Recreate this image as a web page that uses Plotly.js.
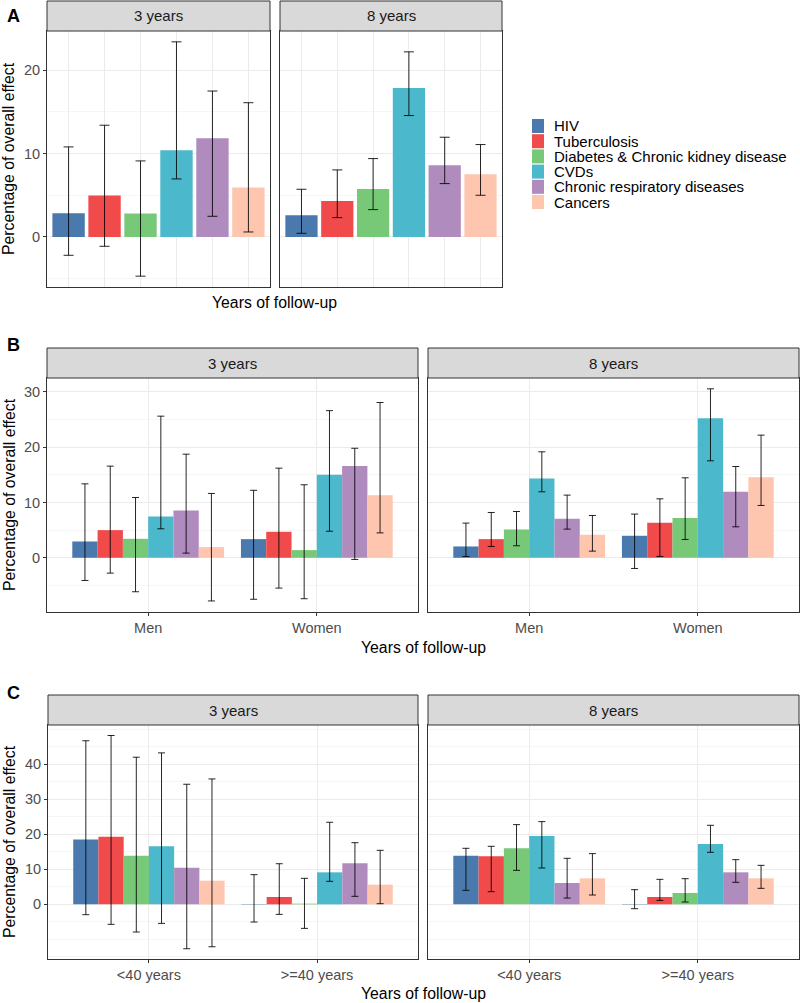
<!DOCTYPE html>
<html>
<head>
<meta charset="utf-8">
<script src="https://cdn.plot.ly/plotly-3.0.1.min.js"></script>
<style>html,body{margin:0;padding:0;background:#fff;}#chart{width:800px;height:1003px;}</style>
</head>
<body>
<div id="chart"></div>
<script>
// ---------------- DATA ----------------
const diseases = ["HIV", "Tuberculosis", "Diabetes & Chronic kidney disease", "CVDs", "Chronic respiratory diseases", "Cancers"];
const diseaseColors = ["#4A79AD", "#F04A4B", "#78C977", "#4BB8CB", "#B08BBD", "#FEC5AF"];
const facets = ["3 years", "8 years"];
const sexGroups = ["Men", "Women"];
const ageGroups = ["<40 years", ">=40 years"];

// Panel A: overall, one value per disease
const A3_value = [2.84, 4.96, 2.80, 10.40, 11.85, 5.92];
const A3_low   = [-2.20, -1.12, -4.70, 6.96, 2.48, 0.60];
const A3_high  = [10.80, 13.40, 9.12, 23.40, 17.50, 16.10];
const A8_value = [2.60, 4.32, 5.76, 17.85, 8.60, 7.52];
const A8_low   = [0.44, 2.32, 3.28, 14.56, 6.40, 5.00];
const A8_high  = [5.72, 8.04, 9.40, 22.20, 11.96, 11.08];

// Panel B: by sex, rows = diseases, columns = [Men, Women]
const B3_value = [[2.95, 3.37], [5.00, 4.70], [3.43, 1.39], [7.47, 15.00], [8.55, 16.57], [1.93, 11.30]];
const B3_low   = [[-4.10, -7.50], [-2.77, -5.48], [-6.14, -7.40], [5.24, 4.80], [0.84, -0.30], [-7.80, 4.50]];
const B3_high  = [[13.37, 12.20], [16.57, 16.20], [10.90, 13.20], [25.60, 26.60], [18.73, 19.80], [11.63, 28.07]];
const B8_value = [[2.05, 3.98], [3.37, 6.33], [5.12, 7.17], [14.34, 25.24], [7.05, 11.93], [4.16, 14.58]];
const B8_low   = [[0.24, -1.93], [2.05, 0.24], [2.17, 3.31], [11.93, 17.53], [5.18, 5.60], [1.20, 9.46]];
const B8_high  = [[6.27, 7.90], [8.19, 10.66], [8.37, 14.46], [19.16, 30.54], [11.33, 16.50], [7.65, 22.17]];

// Panel C: by age, rows = diseases, columns = [<40, >=40]
const C3_value = [[18.48, -0.10], [19.33, 2.10], [13.90, 0.20], [16.57, 9.14], [10.48, 11.70], [6.76, 5.62]];
const C3_low   = [[-2.95, -5.05], [-5.70, -2.86], [-7.90, -6.86], [-5.43, 6.57], [-12.67, 2.29], [-12.10, 0.19]];
const C3_high  = [[46.70, 8.48], [48.20, 11.60], [42.00, 7.43], [43.24, 23.43], [34.29, 17.60], [35.80, 15.43]];
const C8_value = [[13.90, -0.10], [13.70, 2.10], [16.00, 3.24], [19.52, 17.24], [6.10, 9.14], [7.43, 7.43]];
const C8_low   = [[4.00, -1.24], [3.62, 1.14], [9.71, 0.67], [10.38, 14.86], [1.80, 6.29], [2.67, 4.57]];
const C8_high  = [[16.00, 4.19], [16.57, 7.14], [22.76, 7.33], [23.62, 22.57], [13.14, 12.76], [14.48, 11.14]];

// ---------------- HELPERS ----------------
const W = 800, H = 1003;
const px = v => v / W;
const py = v => 1 - v / H;
const sub = (a, b) => a.map((v, i) => v - b[i]);

const ERR_COLOR = "rgba(0,0,0,0.85)";
const traces = [];

function errObj(val, low, high, w) {
  return {type: "data", symmetric: false, array: sub(high, val), arrayminus: sub(val, low),
          color: ERR_COLOR, thickness: 1, width: w};
}

// Panel A traces (one trace per facet, each disease its own x category)
[[A3_value, A3_low, A3_high, "x", "y"], [A8_value, A8_low, A8_high, "x2", "y2"]].forEach(([v, lo, hi, xa, ya]) => {
  traces.push({
    type: "bar", x: diseases, y: v, xaxis: xa, yaxis: ya,
    marker: {color: diseaseColors, line: {width: 0}},
    error_y: errObj(v, lo, hi, 5),
    showlegend: false, hoverinfo: "skip"
  });
});

// Panels B and C
function groupedPanel(groups, vals, lows, highs, xa, ya) {
  diseases.forEach((d, i) => {
    traces.push({
      type: "bar", name: d, legendgroup: d, showlegend: false,
      x: groups, y: vals[i], xaxis: xa, yaxis: ya,
      marker: {color: diseaseColors[i], line: {width: 0}},
      error_y: errObj(vals[i], lows[i], highs[i], 3.5),
      hoverinfo: "skip"
    });
  });
}
groupedPanel(sexGroups, B3_value, B3_low, B3_high, "x3", "y3");
groupedPanel(sexGroups, B8_value, B8_low, B8_high, "x4", "y4");
groupedPanel(ageGroups, C3_value, C3_low, C3_high, "x5", "y5");
groupedPanel(ageGroups, C8_value, C8_low, C8_high, "x6", "y6");

// ---------------- LAYOUT ----------------
const FRAME = "#333333";
const FONT = "Liberation Sans, Arial, sans-serif";
const TICKFONT = {family: FONT, size: 14.5, color: "#4D4D4D"};

function xAxis(x0, x1, anchor, range, labels) {
  return {
    domain: [px(x0), px(x1)], anchor: anchor, type: "category", range: range,
    showgrid: true, gridcolor: "#EBEBEB", gridwidth: 1,
    showline: true, mirror: true, linecolor: FRAME, linewidth: 1,
    ticks: labels ? "outside" : "", ticklen: 3, tickcolor: FRAME,
    showticklabels: labels, tickfont: TICKFONT, zeroline: false, fixedrange: true
  };
}
function yAxis(top, bottom, anchor, range, tickvals, labels) {
  return {
    domain: [py(bottom), py(top)], anchor: anchor, range: range,
    tickmode: "array", tickvals: tickvals, ticktext: tickvals.map(String),
    showgrid: true, gridcolor: "#EBEBEB", gridwidth: 1,
    minor: {dtick: 5, tick0: 0, showgrid: true, gridcolor: "#F2F2F2", gridwidth: 0.7, ticks: ""},
    showline: true, mirror: true, linecolor: FRAME, linewidth: 1,
    ticks: labels ? "outside" : "", ticklen: 3, tickcolor: FRAME,
    showticklabels: labels, tickfont: TICKFONT, zeroline: false, fixedrange: true
  };
}

// facet geometry (pixels)
const A = {top: 31, bottom: 287, strip: 1, L: [47, 270], R: [280, 502], yr: [-6, 24.7], ticks: [0, 10, 20]};
const B = {top: 378, bottom: 612, strip: 348, L: [47, 418], R: [428, 799], yr: [-9.8, 32.5], ticks: [0, 10, 20, 30]};
const C = {top: 725, bottom: 959, strip: 695, L: [48, 418], R: [428, 799], yr: [-15.6, 51.2], ticks: [0, 10, 20, 30, 40]};

const layout = {
  width: W, height: H,
  margin: {l: 0, r: 0, t: 0, b: 0},
  paper_bgcolor: "#FFFFFF", plot_bgcolor: "#FFFFFF",
  font: {family: FONT, color: "#000000"},
  barmode: "group", bargap: 0.1, bargroupgap: 0,
  xaxis:  xAxis(A.L[0], A.L[1], "y",  [-0.6, 5.6], false),
  xaxis2: xAxis(A.R[0], A.R[1], "y2", [-0.6, 5.6], false),
  xaxis3: xAxis(B.L[0], B.L[1], "y3", [-0.6, 1.6], true),
  xaxis4: xAxis(B.R[0], B.R[1], "y4", [-0.6, 1.6], true),
  xaxis5: xAxis(C.L[0], C.L[1], "y5", [-0.6, 1.6], true),
  xaxis6: xAxis(C.R[0], C.R[1], "y6", [-0.6, 1.6], true),
  yaxis:  yAxis(A.top, A.bottom, "x",  A.yr, A.ticks, true),
  yaxis2: yAxis(A.top, A.bottom, "x2", A.yr, A.ticks, false),
  yaxis3: yAxis(B.top, B.bottom, "x3", B.yr, B.ticks, true),
  yaxis4: yAxis(B.top, B.bottom, "x4", B.yr, B.ticks, false),
  yaxis5: yAxis(C.top, C.bottom, "x5", C.yr, C.ticks, true),
  yaxis6: yAxis(C.top, C.bottom, "x6", C.yr, C.ticks, false),
  showlegend: false,
  shapes: [], annotations: []
};

// strips
[A, B, C].forEach(p => {
  [p.L, p.R].forEach((xr, k) => {
    layout.shapes.push({type: "rect", xref: "paper", yref: "paper",
      x0: px(xr[0]), x1: px(xr[1]), y0: py(p.top), y1: py(p.strip),
      fillcolor: "#D9D9D9", line: {color: FRAME, width: 1}, layer: "above"});
    layout.annotations.push({xref: "paper", yref: "paper", x: px((xr[0] + xr[1]) / 2), y: py((p.top + p.strip) / 2),
      text: facets[k], showarrow: false, xanchor: "center", yanchor: "middle",
      font: {size: 15, color: "#1A1A1A"}});
  });
});

// legend (key swatches + labels, built from the disease / colour arrays)
const LEG = {x: 532, y0: 126, pitch: 15.2, sw: 12, sh: 14};
diseases.forEach((d, i) => {
  const cy = LEG.y0 + LEG.pitch * i;
  layout.shapes.push({type: "rect", xref: "paper", yref: "paper",
    x0: px(LEG.x), x1: px(LEG.x + LEG.sw), y0: py(cy + LEG.sh / 2), y1: py(cy - LEG.sh / 2),
    fillcolor: diseaseColors[i], line: {width: 0}});
  layout.annotations.push({xref: "paper", yref: "paper", x: px(LEG.x + 20), y: py(cy),
    text: d, showarrow: false, xanchor: "left", yanchor: "middle", font: {size: 15, color: "#000"}});
});

// panel letters, axis titles
const panelLabels = [["A", 16], ["B", 345], ["C", 693]];
panelLabels.forEach(([t, y]) => layout.annotations.push({xref: "paper", yref: "paper", x: px(13), y: py(y),
  text: "<b>" + t + "</b>", showarrow: false, xanchor: "center", yanchor: "middle", font: {size: 18, color: "#000"}}));

[[A, 302], [B, 647], [C, 993]].forEach(([p, y]) => {
  layout.annotations.push({xref: "paper", yref: "paper", x: px((p.L[0] + p.R[1]) / 2), y: py(y),
    text: "Years of follow-up", showarrow: false, xanchor: "center", yanchor: "middle", font: {size: 15.8, color: "#000"}});
  layout.annotations.push({xref: "paper", yref: "paper", x: px(9), y: py((p.top + p.bottom) / 2),
    text: "Percentage of overall effect", textangle: -90, showarrow: false, xanchor: "center", yanchor: "middle",
    font: {size: 15.8, color: "#000"}});
});

Plotly.newPlot("chart", traces, layout, {staticPlot: true, displayModeBar: false});
</script>
</body>
</html>
